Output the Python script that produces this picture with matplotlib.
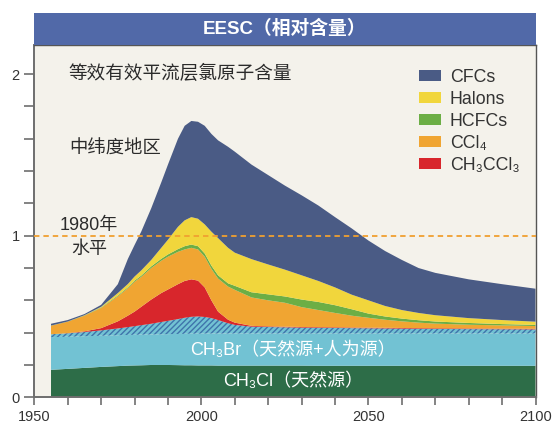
import numpy as np
import matplotlib
matplotlib.use("Agg")
import matplotlib.pyplot as plt
from matplotlib.patches import Rectangle, Patch

plt.rcParams['font.family'] = ['Liberation Sans', 'Noto Sans CJK SC', 'DejaVu Sans']
plt.rcParams['hatch.linewidth'] = 1.0

# ---------------- data ----------------
years = [1955, 1960, 1965, 1970, 1975, 1978, 1980, 1982, 1985, 1988, 1990, 1993,
         1995, 1997, 1999, 2001, 2003, 2005, 2008, 2010, 2015, 2020, 2025, 2030,
         2035, 2040, 2045, 2050, 2055, 2060, 2065, 2070, 2080, 2090, 2100]

ch3cl = [0.170, 0.176, 0.182, 0.188, 0.193, 0.196, 0.197, 0.198, 0.200, 0.200, 0.200, 0.199,
         0.198, 0.198, 0.197, 0.197, 0.197, 0.196, 0.196, 0.196, 0.196, 0.196, 0.196, 0.196,
         0.195, 0.195, 0.195, 0.195, 0.195, 0.195, 0.195, 0.195, 0.195, 0.195, 0.195]
ch3br_natural = [0.202, 0.199, 0.196, 0.193, 0.191, 0.190, 0.190, 0.190, 0.189, 0.190, 0.191, 0.193,
                 0.195, 0.196, 0.197, 0.198, 0.198, 0.199, 0.199, 0.199, 0.199, 0.199, 0.199, 0.199,
                 0.200, 0.200, 0.200, 0.200, 0.200, 0.200, 0.200, 0.200, 0.200, 0.200, 0.200]
ch3br_anthropogenic = [0.018, 0.021, 0.026, 0.033, 0.042, 0.048, 0.053, 0.058, 0.066, 0.076, 0.082, 0.092,
                       0.099, 0.104, 0.106, 0.102, 0.095, 0.083, 0.063, 0.053, 0.042, 0.040, 0.038, 0.036,
                       0.035, 0.034, 0.033, 0.032, 0.031, 0.030, 0.029, 0.028, 0.027, 0.026, 0.025]
ch3ccl3 = [0.000, 0.001, 0.004, 0.014, 0.044, 0.071, 0.090, 0.114, 0.150, 0.179, 0.194, 0.216,
           0.228, 0.232, 0.222, 0.183, 0.110, 0.052, 0.022, 0.014, 0.005, 0.004, 0.004, 0.004,
           0.004, 0.004, 0.004, 0.004, 0.004, 0.004, 0.004, 0.004, 0.004, 0.004, 0.004]
ccl4 = [0.053, 0.071, 0.097, 0.125, 0.155, 0.170, 0.185, 0.185, 0.195, 0.200, 0.203, 0.200,
        0.195, 0.195, 0.193, 0.190, 0.195, 0.205, 0.205, 0.203, 0.176, 0.161, 0.148, 0.123,
        0.106, 0.089, 0.073, 0.061, 0.050, 0.041, 0.034, 0.029, 0.023, 0.020, 0.017]
hcfcs = [0.001, 0.001, 0.002, 0.003, 0.005, 0.006, 0.007, 0.008, 0.010, 0.012, 0.014, 0.017,
         0.020, 0.020, 0.020, 0.020, 0.020, 0.020, 0.020, 0.025, 0.032, 0.037, 0.039, 0.047,
         0.050, 0.048, 0.040, 0.026, 0.020, 0.017, 0.015, 0.013, 0.011, 0.008, 0.007]
halons = [0.000, 0.000, 0.001, 0.004, 0.015, 0.020, 0.025, 0.032, 0.040, 0.068, 0.091, 0.138,
          0.160, 0.170, 0.170, 0.180, 0.210, 0.230, 0.220, 0.205, 0.205, 0.185, 0.166, 0.150,
          0.130, 0.110, 0.090, 0.082, 0.065, 0.053, 0.045, 0.039, 0.030, 0.025, 0.020]
cfcs = [0.011, 0.009, 0.007, 0.012, 0.055, 0.155, 0.195, 0.240, 0.320, 0.405, 0.465, 0.545,
        0.585, 0.595, 0.600, 0.610, 0.605, 0.605, 0.625, 0.625, 0.585, 0.553, 0.520, 0.495,
        0.467, 0.435, 0.410, 0.370, 0.340, 0.310, 0.278, 0.262, 0.240, 0.222, 0.204]

legend_labels = ['CFCs', 'Halons', 'HCFCs', 'CCl₄', 'CH₃CCl₃']
x_ticks = [1950, 2000, 2050, 2100]
y_ticks = [0, 1, 2]

# ---------------- style ----------------
c_cfc = '#4a5b85'
c_halon = '#f1d63c'
c_hcfc = '#6cae45'
c_ccl4 = '#f0a532'
c_mcf = '#d8262c'
c_br = '#72c2d3'
c_brh = '#3f74ab'
c_cl = '#2d6d48'
bg = '#f4f2eb'

W, H = 553, 428
fig = plt.figure(figsize=(W / 100, H / 100), dpi=100)
x0, x1 = 34.3, 535.5
y0, y1 = 397.3, 45.0
ax = fig.add_axes([x0 / W, 1 - y0 / H, (x1 - x0) / W, (y0 - y1) / H])
ax.set_facecolor(bg)

polys = ax.stackplot(years, ch3cl, ch3br_natural, ch3br_anthropogenic, ch3ccl3,
                     ccl4, hcfcs, halons, cfcs,
                     colors=[c_cl, c_br, c_br, c_mcf, c_ccl4, c_hcfc, c_halon, c_cfc],
                     linewidth=0)
polys[2].set_hatch('//////')
polys[2].set_edgecolor(c_brh)

ax.axhline(1.0, color='#f0a030', lw=1.3, ls=(0, (3, 2.2)), zorder=5)

ax.set_xlim(1950, 2100)
ax.set_ylim(0, 2.18)
ax.set_xticks(x_ticks)
ax.set_xticks(np.arange(1950, 2101, 10), minor=True)
ax.set_yticks(y_ticks)
ax.set_yticks(np.arange(0, 2.01, 0.2), minor=True)
ax.tick_params(axis='both', which='both', direction='out', color='#6e6e6e', width=1.2,
               labelsize=10.5, labelcolor='#333333')
ax.tick_params(axis='y', which='both', length=7)
ax.tick_params(axis='x', which='both', length=6)
for s in ['left', 'bottom']:
    ax.spines[s].set_color('#6e6e6e')
    ax.spines[s].set_linewidth(1.4)
for s in ['top', 'right']:
    ax.spines[s].set_color('#555555')
    ax.spines[s].set_linewidth(1.0)

# title bar
bar_top = 12.7
fig.patches.append(Rectangle((x0 / W, 1 - y1 / H), (x1 - x0) / W, (y1 - bar_top) / H,
                             transform=fig.transFigure, facecolor='#5169a8',
                             edgecolor='none', zorder=0))
fig.text((x0 + x1) / 2 / W, 1 - (y1 + bar_top) / 2 / H, 'EESC（相对含量）', color='white',
         fontsize=13.5, fontweight='bold', ha='center', va='center')

# annotations
ax.text(1960.1, 2.0, '等效有效平流层氯原子含量', fontsize=13.4, color='#2b2b2b',
        ha='left', va='center')
ax.text(1960.5, 1.535, '中纬度地区', fontsize=13.2, color='#2b2b2b', ha='left', va='center')
ax.text(1966.4, 1.06, '1980年', fontsize=13, color='#2b2b2b', ha='center', va='center', zorder=6)
ax.text(1966.4, 0.916, '水平', fontsize=13, color='#2b2b2b', ha='center', va='center', zorder=6)
ax.text(2027.5, 0.293, 'CH₃Br（天然源+人为源）', fontsize=13, color='white',
        ha='center', va='center')
ax.text(2027.5, 0.097, 'CH₃Cl（天然源）', fontsize=13, color='white',
        ha='center', va='center')

handles = [Patch(facecolor=c, edgecolor='none') for c in [c_cfc, c_halon, c_hcfc, c_ccl4, c_mcf]]
leg = ax.legend(handles, legend_labels, loc='upper left', bbox_to_anchor=(0.742, 0.968),
                frameon=False, fontsize=12.8, handlelength=1.25, handleheight=0.56,
                handletextpad=0.5, labelspacing=0.28, borderaxespad=0.3)
for t in leg.get_texts():
    t.set_color('#333333')

fig.savefig('out.png', dpi=100, facecolor='white')
